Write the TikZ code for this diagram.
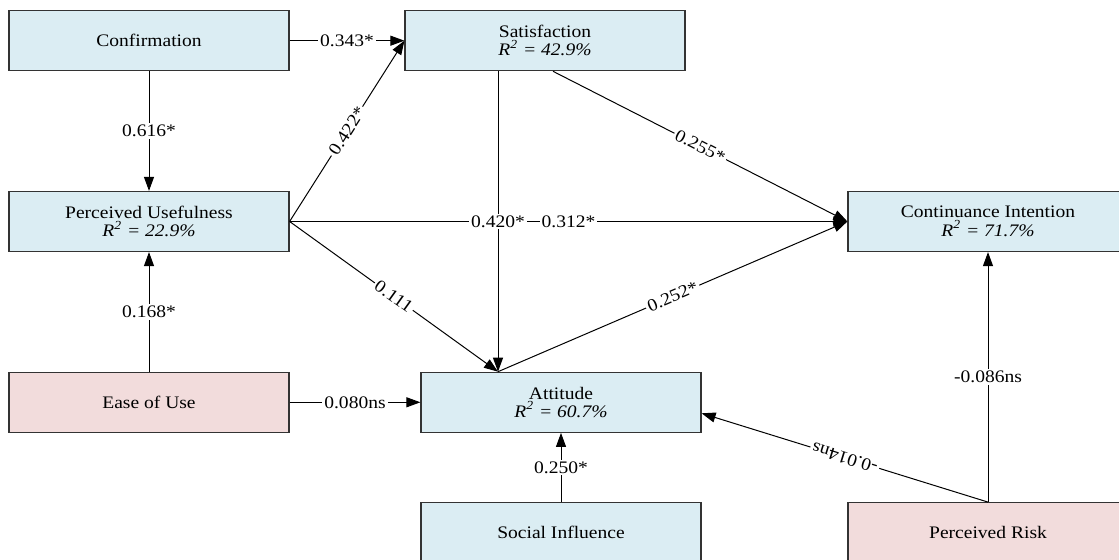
\documentclass[tikz,border=0pt]{standalone}
\usepackage{fontspec}
\setmainfont{Liberation Serif}[FakeStretch=1.11]
\usetikzlibrary{arrows.meta}
\definecolor{boxblue}{RGB}{219,237,243}
\definecolor{boxpink}{RGB}{242,220,220}

\begin{document}
\begin{tikzpicture}[x=0.5pt,y=-0.5pt,>={Triangle[length=7pt,width=5pt]},
  node distance=90.4pt,line width=0.5pt,font=\fontsize{8.8pt}{9.2pt}\selectfont,
  construct/.style={rectangle,draw=black!80,line width=0.6pt,minimum width=140pt,
    minimum height=30pt,inner sep=0pt,align=center},
  blue node/.style={construct,fill=boxblue},
  pink node/.style={construct,fill=boxpink},
  coef/.style={fill=white,inner sep=1pt}]

  \useasboundingbox (0,0) rectangle (1119,560);

  \node[blue node] (Conf) at (149,40.7) {Confirmation};
  \node[blue node] (PU) [below of=Conf] {Perceived Usefulness\\\textit{R\textsuperscript{2} = 22.9\%}};
  \node[pink node] (EoU) [below of=PU] {Ease of Use};
  \node[blue node] (Sat) [node distance=198pt,right of=Conf] {Satisfaction\\\textit{R\textsuperscript{2} = 42.9\%}};
  \node[blue node] (CI) [node distance=419.5pt,right of=PU] {Continuance Intention\\\textit{R\textsuperscript{2} = 71.7\%}};
  \node[blue node] (Att) [node distance=206pt,right of=EoU] {Attitude\\\textit{R\textsuperscript{2} = 60.7\%}};
  \node[blue node] (SI) [node distance=65.2pt,below of=Att] {Social Influence};
  \node[pink node] (PR) [node distance=213.5pt,right of=SI] {Perceived Risk};

  \coordinate (AttTop) at ([xshift=-31.5pt]Att.north);

  \path[->,every node/.style={coef}]
    (Conf) edge node {0.343*} (Sat)
           edge node {0.616*} (PU)
    (EoU)  edge node {0.168*} (PU)
           edge node {0.080ns} (Att)
    (PU.east) edge node[sloped] {0.422*} (Sat.west)
              edge node {0.312*} (CI.west)
              edge node[sloped] {0.111} (AttTop)
    (Sat.south -| AttTop) edge node {0.420*} (AttTop)
    ([xshift=4pt]Sat.south) edge node[sloped] {0.255*} (CI.west)
    (AttTop) edge node[sloped] {0.252*} (CI.west)
    (SI) edge node {0.250*} (Att)
    (PR) edge node {-0.086ns} (CI)
    (PR.north) edge node[sloped,allow upside down] {-0.014ns} ([yshift=-5.5pt]Att.east);
\end{tikzpicture}
\end{document}
